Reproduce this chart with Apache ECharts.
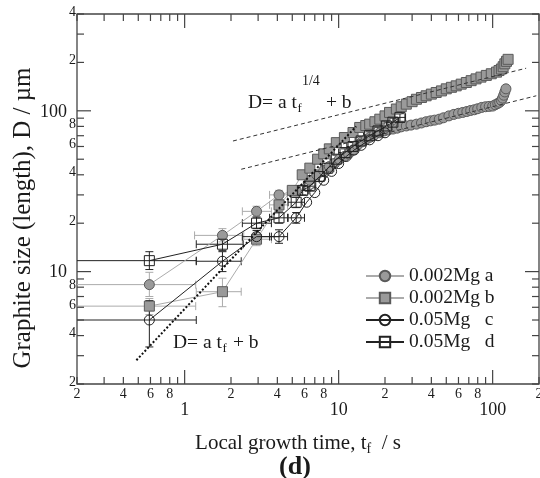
<!DOCTYPE html>
<html>
<head>
<meta charset="utf-8">
<script src="https://cdn.jsdelivr.net/npm/echarts/dist/echarts.min.js"></script>
<style>
html,body{margin:0;padding:0;background:#fff;}
#c{width:540px;height:478px;}
</style>
</head>
<body>
<div id="c"></div>
<script>
// ---------------- data ----------------
const seriesNames = ['0.002Mg a', '0.002Mg b', '0.05Mg   c', '0.05Mg   d'];

// 0.002Mg a (filled circles)
const aT = [0.59,1.76,2.93,4.1,5.3,6.5,7.2,8.0,8.7,9.4,10.1,10.9,11.6,12.4,13.2,14.1,15.1,16.0,17.0,18.5,19.8,21.0,22.5,24.0,25.5,27.5,29.5,32,34.5,37,39.5,42,45,48,52,56,60,64,68,72,76,80,85,90,95,100,104,108,111,114,116,118,120,122];
const aD = [8.3,16.8,23.7,30,32,37,40,42.5,45,47,50,52,54,57,61,64,66.5,68.5,70.5,73,75,76,77,78,79.5,80.5,81.5,82.6,84,85.5,86.6,87.5,88.7,90.5,93,95,96.5,97.7,99,100.5,101.5,103,105,106,106.5,107,109,111,113,116,120,125,131,137];
const aTLo = [0.15,1.16,2.37,3.56];
const aTHi = [1.18,2.42,3.66,4.66];
const aDLo = [7.0,15.3,22,28];
const aDHi = [9.9,18.5,25.5,32];

// 0.002Mg b (filled squares)
const bT = [0.59,1.76,2.93,4.1,5.0,5.8,6.5,7.3,8.0,8.7,9.66,10.9,12.4,13.7,15.0,15.9,17.2,18.5,20.0,21.4,23.7,25.5,27.5,30,32,34.5,37,40,43,46.5,50,54,58,62.5,67.5,72.5,78,84,91,98,106,110,114,117,120,123,126];
const bD = [6.1,7.5,15.9,26,32,40,44,50,54,58,63.4,68.2,73.3,78.8,81,82.6,85.5,88.7,93,97.7,102.6,106,110,114,118,121,124,127,130,133,137,140,143,146.5,150,154,158,162,166,170,174,178,182,188,196,203,209];
const bTLo = [0.15,1.19,2.37,3.56];
const bTHi = [1.18,2.33,3.66,4.66];
const bDLo = [5.4,6.05,14.5,24];
const bDHi = [6.8,9.1,17.5,28];

// 0.05Mg c (open circles)
const cT = [0.59,1.76,2.93,4.1,5.3,6.2,7.0,8.0,9.0,10.0,11.2,12.6,14.0,15.9,18.0,20.0];
const cD = [5.0,11.6,16.5,16.5,21.6,27,31,37,42,47,52,57,61,66,70,73];
const cTLo = [0.15,1.19,2.37,3.56,4.7];
const cTHi = [1.19,2.33,3.66,4.66,6.0];
const cDLo = [3.4,10.0,15,15,20];
const cDHi = [6.6,13.3,18,18.2,23.3];

// 0.05Mg d (open squares)
const dT = [0.59,1.76,2.93,4.1,5.3,5.84,6.5,7.5,8.5,9.66,11.0,12.4,14.0,15.9,18.0,20.4,22.5,25.0];
const dD = [11.7,14.8,20,21.6,27,32,34,39,44,50,55,60,65,70,75,80.5,85,91];
const dTLo = [0.15,1.19,2.37,3.56,4.7,5.3,5.9,6.8,7.7,8.8,10.0,11.3,12.8,14.5,16.4,18.6,20.5,22.8];
const dTHi = [1.19,2.4,3.66,4.66,6.0,6.4,7.1,8.2,9.3,10.6,12.0,13.5,15.2,17.3,19.6,22.2,24.5,27.2];
const dDLo = [10.3,13.5,18.5,20,25,30,32,36.5,41,47,52,56.5,61,66,71,76,80,86];
const dDHi = [13.3,16.5,21.8,23.5,29,34,36,41.5,47,53,58,63.5,69,74,79,85,90,96];

// fitted lines
const fitLinear = [[0.486,2.81],[13,80]];
const fitQuarterUpper = [[2.06,64.9],[165,184]];
const fitQuarterLower = [[2.33,43.3],[192,124]];

// axes / ticks
const xMin = 0.2, xMax = 200, yMin = 2, yMax = 400;
const xTickValues = [0.2,0.3,0.4,0.5,0.6,0.7,0.8,0.9,1,2,3,4,5,6,7,8,9,10,20,30,40,50,60,70,80,90,100,200];
const xTickLabels = ['2','','4','','6','','8','','','2','','4','','6','','8','','','2','','4','','6','','8','','','2'];
const xDecadeValues = [1,10,100];
const xDecadeLabels = ['1','10','100'];
const yTickValues = [2,3,4,5,6,7,8,9,10,20,30,40,50,60,70,80,90,100,200,300,400];
const yTickLabels = ['2','','4','','6','','8','','','2','','4','','6','','8','','','2','','4'];
const yDecadeValues = [10,100];
const yDecadeLabels = ['10','100'];

// ---------------- helpers ----------------
const FONT = '"Liberation Serif", "Times New Roman", serif';
const INK = '#1a1a1a';
const AX = '#444';
const mctx = document.createElement('canvas').getContext('2d');
function tw(text, size, bold) { mctx.font = (bold ? 'bold ' : '') + size + 'px ' + FONT; return mctx.measureText(text).width; }
function font(size, bold) { return (bold ? 'bold ' : '') + size + 'px ' + FONT; }
function zip(t, d) { return t.map((v, i) => [v, d[i]]); }
function errRows(t, d, tl, th, dl, dh) { return tl.map((_, i) => [t[i], d[i], tl[i], th[i], dl[i], dh[i]]); }
function tstyle(text, x, y, size, align, valign, bold) {
  return {text: text, x: x, y: y, font: font(size, bold), fill: INK,
    align: align, textAlign: align, verticalAlign: valign, textVerticalAlign: valign};
}

function makeErrRender(color) {
  return function (params, api) {
    const t = api.value(0), D = api.value(1);
    const pl = api.coord([api.value(2), D]), ph = api.coord([api.value(3), D]);
    const pb = api.coord([t, api.value(4)]), pt = api.coord([t, api.value(5)]);
    const c = 4;
    const st = {stroke: color, lineWidth: 1};
    const L = (x1, y1, x2, y2) => ({type: 'line', shape: {x1, y1, x2, y2}, style: st});
    return {type: 'group', children: [
      L(pl[0], pl[1], ph[0], ph[1]),
      L(pl[0], pl[1] - c, pl[0], pl[1] + c),
      L(ph[0], ph[1] - c, ph[0], ph[1] + c),
      L(pb[0], pb[1], pt[0], pt[1]),
      L(pb[0] - c, pb[1], pb[0] + c, pb[1]),
      L(pt[0] - c, pt[1], pt[0] + c, pt[1])
    ]};
  };
}

function renderXTicks(params, api) {
  const i = params.dataIndex;
  const v = api.value(0);
  const b = api.coord([v, yMin]);
  const t = api.coord([v, yMax]);
  const di = xDecadeValues.indexOf(v);
  const len = di >= 0 ? 14 : 7;
  const st = {stroke: AX, lineWidth: 1.2};
  const ch = [
    {type: 'line', shape: {x1: b[0], y1: b[1], x2: b[0], y2: b[1] - len}, style: st},
    {type: 'line', shape: {x1: t[0], y1: t[1], x2: t[0], y2: t[1] + len}, style: st}
  ];
  if (xTickLabels[i]) ch.push({type: 'text', style: tstyle(xTickLabels[i], b[0], b[1] + 3, 14, 'center', 'top')});
  if (di >= 0) ch.push({type: 'text', style: tstyle(xDecadeLabels[di], b[0], b[1] + 17, 18, 'center', 'top')});
  return {type: 'group', children: ch};
}

function renderYTicks(params, api) {
  const i = params.dataIndex;
  const v = api.value(1);
  const l = api.coord([xMin, v]);
  const r = api.coord([xMax, v]);
  const di = yDecadeValues.indexOf(v);
  const len = di >= 0 ? 14 : 7;
  const st = {stroke: AX, lineWidth: 1.2};
  const ch = [
    {type: 'line', shape: {x1: l[0], y1: l[1], x2: l[0] + len, y2: l[1]}, style: st},
    {type: 'line', shape: {x1: r[0], y1: r[1], x2: r[0] - len, y2: r[1]}, style: st}
  ];
  if (yTickLabels[i]) ch.push({type: 'text', style: tstyle(yTickLabels[i], l[0] - 1, l[1] - 2, 14, 'right', 'middle')});
  if (di >= 0) ch.push({type: 'text', style: tstyle(yDecadeLabels[di], l[0] - 10, l[1] + 1, 18, 'right', 'middle')});
  return {type: 'group', children: ch};
}

// ---------------- text layout ----------------
const graphics = [];
// y title
const yTitle = 'Graphite size (length), D / \u00b5m';
const ySize = Math.min(26, 20 * 301 / tw(yTitle, 20));
graphics.push({type: 'text', x: 23, y: 218, rotation: Math.PI / 2, style: tstyle(yTitle, 0, 0, ySize, 'center', 'middle')});
// x title with subscript
(function () {
  const s = 21, ss = 14;
  const p1 = 'Local growth time, t', p2 = 'f', p3 = '  / s';
  const w1 = tw(p1, s), w2 = tw(p2, ss), w3 = tw(p3, s);
  const x0 = 298 - (w1 + w2 + w3) / 2, y = 443;
  graphics.push({type: 'text', style: tstyle(p1, x0, y, s, 'left', 'middle')});
  graphics.push({type: 'text', style: tstyle(p2, x0 + w1, y + 6, ss, 'left', 'middle')});
  graphics.push({type: 'text', style: tstyle(p3, x0 + w1 + w2, y, s, 'left', 'middle')});
})();
// (d)
graphics.push({type: 'text', style: tstyle('(d)', 295, 467, 26, 'center', 'middle', true)});
// formula 1: D= a tf^1/4 + b
(function () {
  const s = 19.5, ss = 14;
  const x0 = 248, y = 103;
  const w = tw('D= a t', s);
  graphics.push({type: 'text', style: tstyle('D= a t', x0, y, s, 'left', 'middle')});
  graphics.push({type: 'text', style: tstyle('f', x0 + w + 0.5, y + 6, ss - 1, 'left', 'middle')});
  graphics.push({type: 'text', style: tstyle('1/4', x0 + w + 5, y - 22, ss, 'left', 'middle')});
  graphics.push({type: 'text', style: tstyle('+ b', 326, y, s, 'left', 'middle')});
})();
// formula 2: D= a tf + b
(function () {
  const s = 19.5, ss = 13;
  const x0 = 173, y = 343;
  const w = tw('D= a t', s);
  graphics.push({type: 'text', style: tstyle('D= a t', x0, y, s, 'left', 'middle')});
  graphics.push({type: 'text', style: tstyle('f', x0 + w + 0.5, y + 6, ss, 'left', 'middle')});
  graphics.push({type: 'text', style: tstyle('+ b', 233, y, s, 'left', 'middle')});
})();

// ---------------- chart ----------------
const chart = echarts.init(document.getElementById('c'), null, {renderer: 'canvas'});
const GRAYFILL = '#9a9a9a', GRAYEDGE = '#5a5a5a', GRAYLINE = '#ababab', BLACK = '#222';

const option = {
  animation: false,
  backgroundColor: '#fff',
  grid: {left: 77, right: 1, top: 14, bottom: 94, show: true, borderColor: AX, borderWidth: 1.3, backgroundColor: 'transparent'},
  xAxis: {type: 'log', logBase: 10, min: xMin, max: xMax,
    axisLine: {show: false}, axisTick: {show: false}, axisLabel: {show: false}, splitLine: {show: false}},
  yAxis: {type: 'log', logBase: 10, min: yMin, max: yMax,
    axisLine: {show: false}, axisTick: {show: false}, axisLabel: {show: false}, splitLine: {show: false}},
  legend: {
    data: seriesNames, orient: 'vertical', left: 365, top: 266, padding: 0,
    itemWidth: 38, itemHeight: 13, itemGap: 2,
    textStyle: {fontFamily: FONT, fontSize: 19.5, color: INK, lineHeight: 20},
    selectedMode: false
  },
  graphic: graphics,
  series: [
    {type: 'custom', name: 'errA', z: 1, clip: true, silent: true, renderItem: makeErrRender(GRAYLINE), data: errRows(aT, aD, aTLo, aTHi, aDLo, aDHi), encode: {x: 0, y: 1}},
    {type: 'custom', name: 'errB', z: 1, clip: true, silent: true, renderItem: makeErrRender(GRAYLINE), data: errRows(bT, bD, bTLo, bTHi, bDLo, bDHi), encode: {x: 0, y: 1}},
    {type: 'custom', name: 'errC', z: 1, clip: true, silent: true, renderItem: makeErrRender(BLACK), data: errRows(cT, cD, cTLo, cTHi, cDLo, cDHi), encode: {x: 0, y: 1}},
    {type: 'custom', name: 'errD', z: 1, clip: true, silent: true, renderItem: makeErrRender(BLACK), data: errRows(dT, dD, dTLo, dTHi, dDLo, dDHi), encode: {x: 0, y: 1}},
    {type: 'line', name: seriesNames[0], data: zip(aT, aD), z: 2, symbol: 'circle', symbolSize: 10,
      itemStyle: {color: GRAYFILL, borderColor: GRAYEDGE, borderWidth: 1}, lineStyle: {color: GRAYLINE, width: 1}},
    {type: 'line', name: seriesNames[1], data: zip(bT, bD), z: 2, symbol: 'rect', symbolSize: 10,
      itemStyle: {color: GRAYFILL, borderColor: GRAYEDGE, borderWidth: 1}, lineStyle: {color: GRAYLINE, width: 1}},
    {type: 'line', name: seriesNames[2], data: zip(cT, cD), z: 3, symbol: 'circle', symbolSize: 10,
      itemStyle: {color: 'rgba(255,255,255,0)', borderColor: BLACK, borderWidth: 1}, lineStyle: {color: BLACK, width: 1}},
    {type: 'line', name: seriesNames[3], data: zip(dT, dD), z: 3, symbol: 'rect', symbolSize: 10,
      itemStyle: {color: 'rgba(255,255,255,0)', borderColor: BLACK, borderWidth: 1}, lineStyle: {color: BLACK, width: 1}},
    {type: 'line', name: 'fitLinear', data: fitLinear, z: 4, symbol: 'none', silent: true,
      lineStyle: {color: '#111', width: 2, type: [2, 2]}},
    {type: 'line', name: 'fitQuarterUpper', data: fitQuarterUpper, z: 4, symbol: 'none', silent: true,
      lineStyle: {color: '#333', width: 1, type: [4, 3]}},
    {type: 'line', name: 'fitQuarterLower', data: fitQuarterLower, z: 4, symbol: 'none', silent: true,
      lineStyle: {color: '#333', width: 1, type: [4, 3]}},
    {type: 'custom', name: 'xticks', z: 5, silent: true, clip: false, renderItem: renderXTicks,
      data: xTickValues.map(v => [v, yMin]), encode: {x: 0, y: 1}},
    {type: 'custom', name: 'yticks', z: 5, silent: true, clip: false, renderItem: renderYTicks,
      data: yTickValues.map(v => [xMin, v]), encode: {x: 0, y: 1}}
  ]
};
chart.setOption(option);
</script>
</body>
</html>
